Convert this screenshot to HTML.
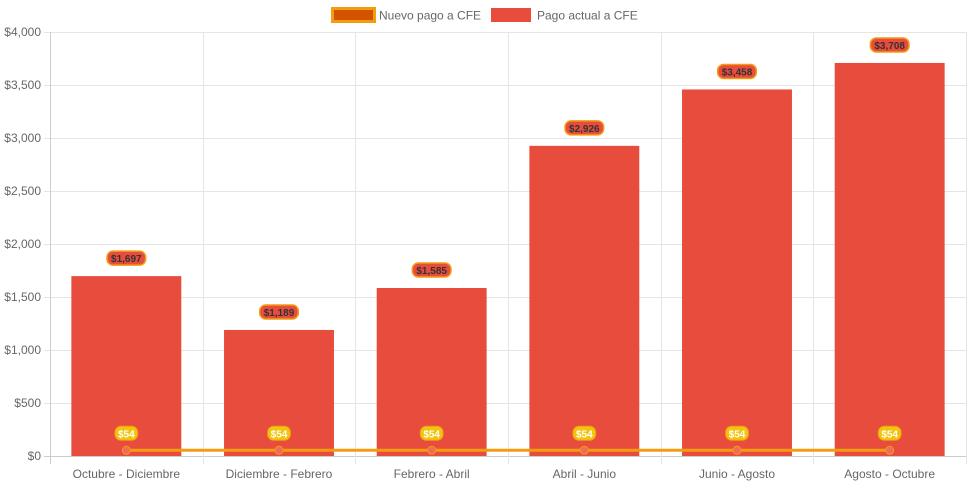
<!DOCTYPE html>
<html><head><meta charset="utf-8"><style>
body{margin:0;background:#fff;}
svg{display:block;font-family:"Liberation Sans",Arial,sans-serif;}
</style></head><body>
<svg id="chart" width="971" height="485">
<g id="grid"></g>
<g id="bars"></g>
<g id="line"></g>
<g id="labels"></g>
<g id="axes"></g>
<g>
 <g>
  <rect x="332.5" y="8.5" width="42" height="13" fill="#d35400" stroke="#f39c12" stroke-width="3"/>
  <text x="379" y="19.5" font-size="12" fill="#666">Nuevo pago a CFE</text>
 </g>
 <g>
  <rect x="491" y="8" width="40" height="14" fill="#e74c3c"/>
  <text x="537" y="19.5" font-size="12" fill="#666">Pago actual a CFE</text>
 </g>
</g>
</svg>
<script>
const categories=["Octubre - Diciembre","Diciembre - Febrero","Febrero - Abril","Abril - Junio","Junio - Agosto","Agosto - Octubre"];
const actual=[1697,1189,1585,2926,3458,3708];
const nuevo=[54,54,54,54,54,54];
const yTicks=[0,500,1000,1500,2000,2500,3000,3500,4000];
const NS="http://www.w3.org/2000/svg";
const L=50,R=966,T=32,B=456,YMAX=4000;
const bw=(R-L)/categories.length;
const x=i=>L+bw*(i+0.5);
const y=v=>B-(v/YMAX)*(B-T);
const fmt=v=>"$"+v.toLocaleString("en-US");
function mk(tag,a,p){const e=document.createElementNS(NS,tag);for(const k in a)e.setAttribute(k,a[k]);p.appendChild(e);return e;}
const grid=document.getElementById('grid'),axes=document.getElementById('axes'),bars=document.getElementById('bars'),line=document.getElementById('line'),labels=document.getElementById('labels');
yTicks.forEach(t=>{
 const g=mk('line',{x1:L-6,x2:R,y1:y(t)+.5,y2:y(t)+.5,stroke:t===0?'#ccc':'#e5e5e5'},grid);
 
 
 const tx=mk('text',{x:L-9,y:y(t)+4,'text-anchor':'end','font-size':12,fill:'#666'},axes);
 tx.textContent=fmt(t);
 
 
});
for(let i=0;i<=categories.length;i++){
 const gx=Math.round(L+bw*i)+.5;
 const g=mk('line',{x1:gx,x2:gx,y1:T,y2:B+8,stroke:i===0?'#ccc':'#e5e5e5'},grid);
 
 
}
categories.forEach((c,i)=>{
 const w=bw*0.72;
 const r=mk('rect',{x:x(i)-w/2,y:y(actual[i]),width:w,height:B-y(actual[i]),fill:'#e74c3c'},bars);
 
 
 const tx=mk('text',{x:x(i),y:B+22,'text-anchor':'middle','font-size':12,fill:'#666'},axes);
 tx.textContent=c;
 
 
 const s=fmt(actual[i]);const lw=s.length*5.6+5;
 const ly=y(actual[i])-18;
 const lb=mk('rect',{x:x(i)-lw/2,y:ly-7,width:lw,height:14,rx:6,fill:'#e74c3c',stroke:'#f39c12','stroke-width':1.5},labels);
 
 
 const lt=mk('text',{x:x(i),y:ly+4,'text-anchor':'middle','font-size':10,'font-weight':'bold',fill:'#333'},labels);
 lt.textContent=s;
 
 
});
let d="";nuevo.forEach((v,i)=>{d+=(i?"L":"M")+x(i)+","+y(v);});
const p=mk('path',{d:d,stroke:'#f39c12','stroke-width':3,fill:'none'},line);


nuevo.forEach((v,i)=>{
 const c=mk('circle',{cx:x(i),cy:y(v),r:4,fill:'#ef6b5e',stroke:'#f39c12','stroke-width':1},line);
 
 
 const s=fmt(v);const lw=s.length*5.6+6;const ly=y(v)-17;
 const lb=mk('rect',{x:x(i)-lw/2,y:ly-7,width:lw,height:14,rx:6,fill:'#f1c40f',stroke:'#f39c12','stroke-width':1},labels);
 
 
 const lt=mk('text',{x:x(i),y:ly+4,'text-anchor':'middle','font-size':10,'font-weight':'bold',fill:'#fff'},labels);
 lt.textContent=s;
 
 
});
</script>
</body></html>
